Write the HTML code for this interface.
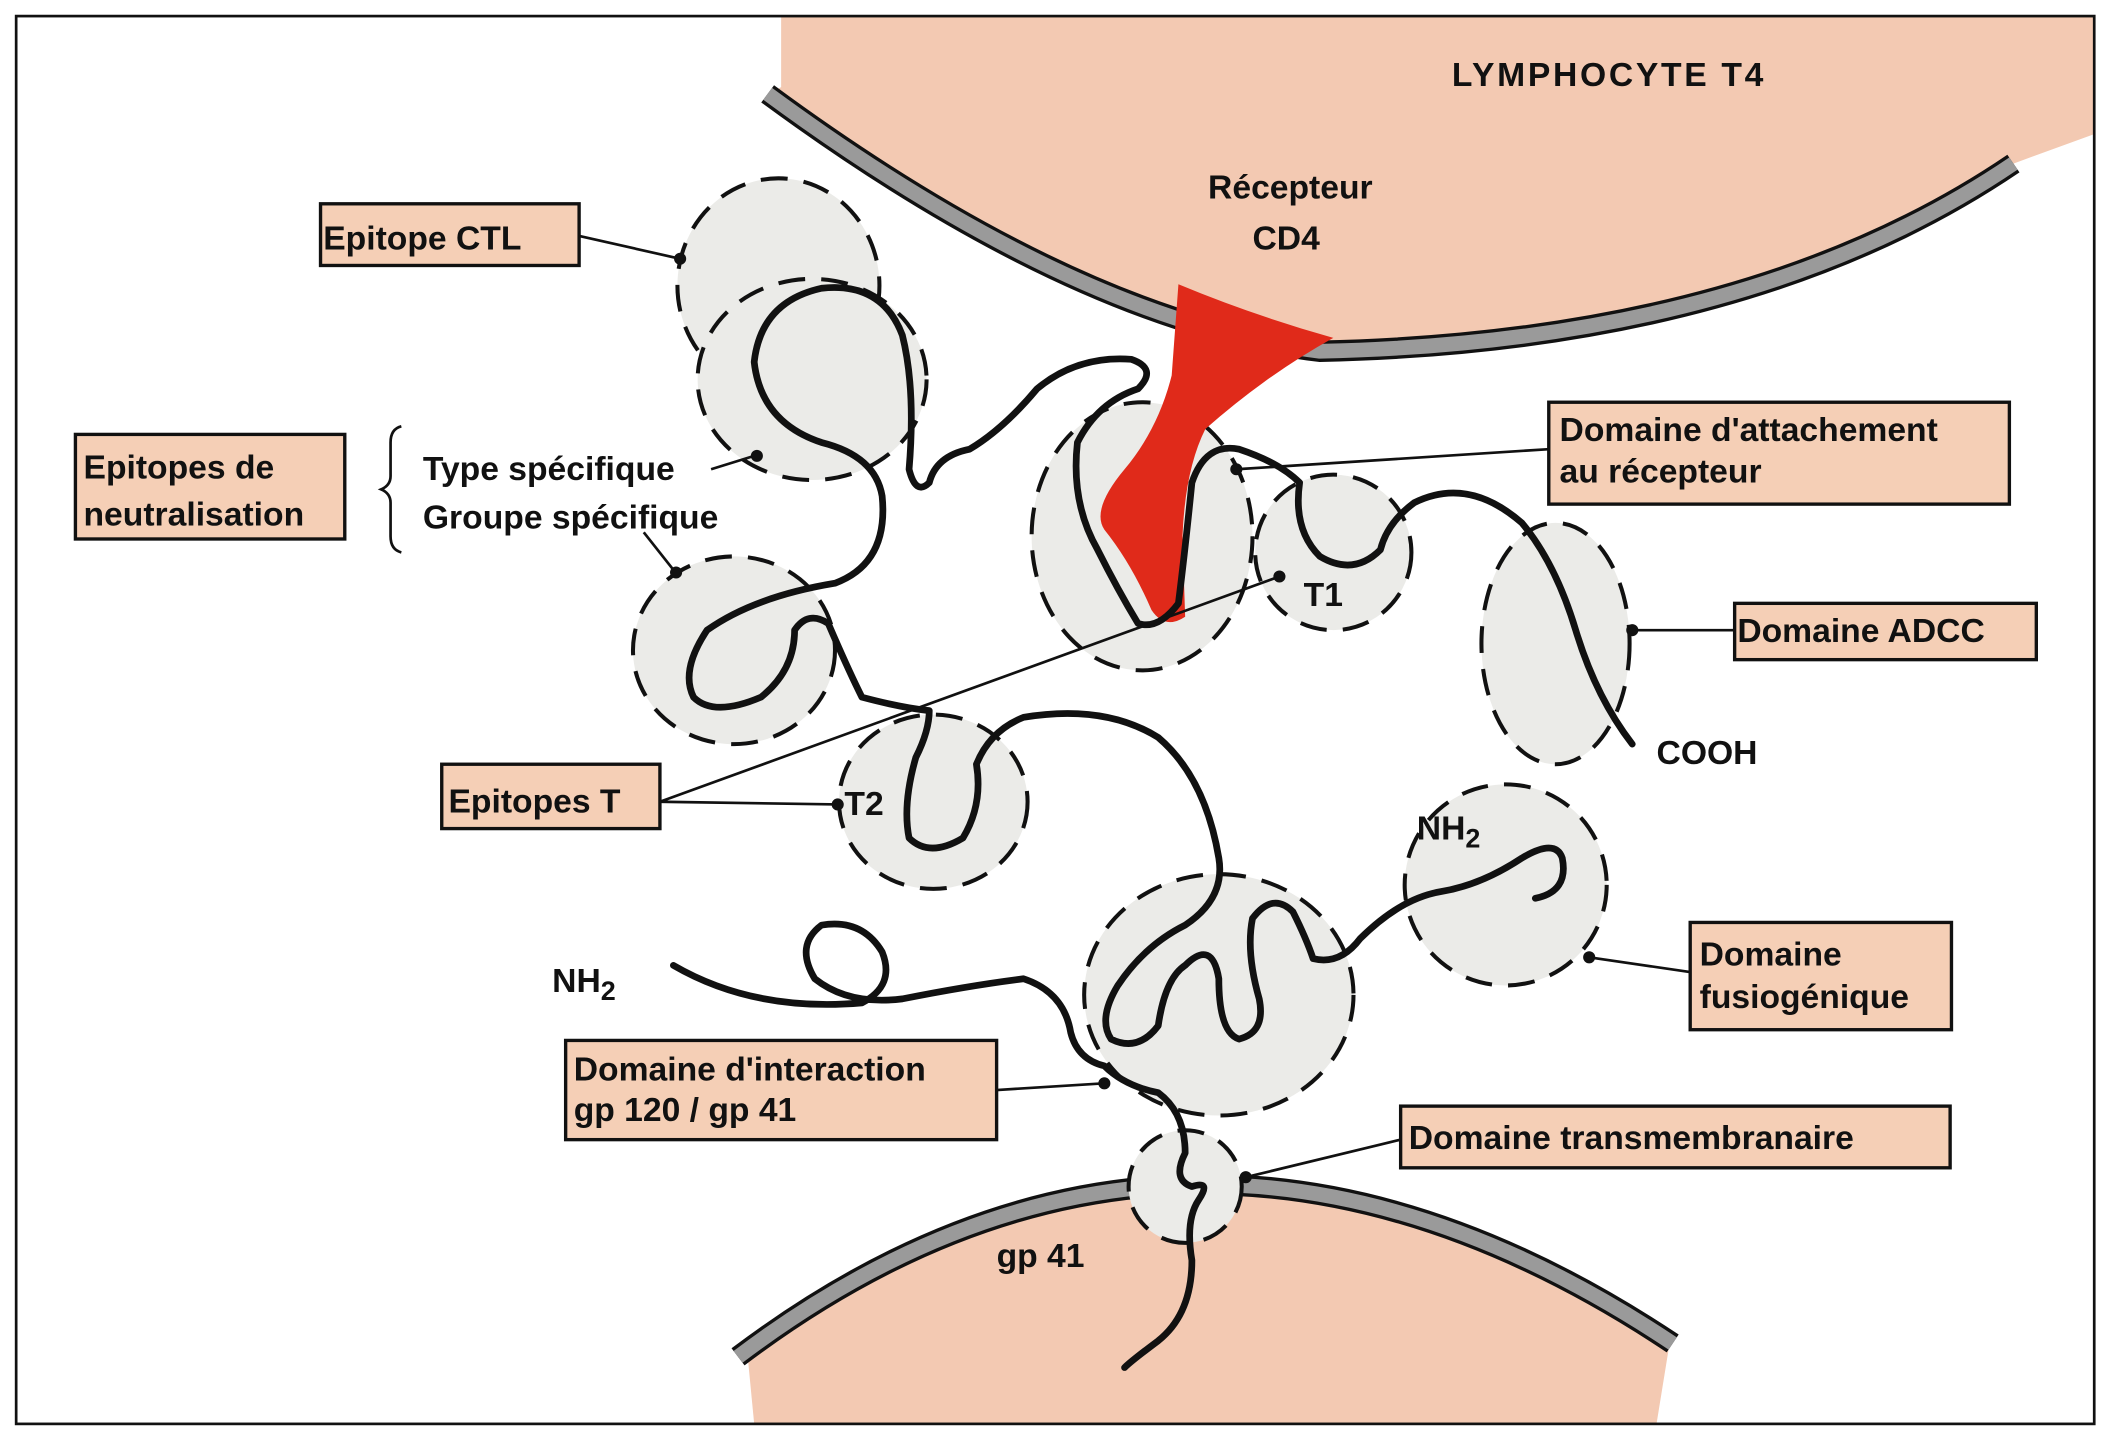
<!DOCTYPE html>
<html><head><meta charset="utf-8"><style>
html,body{margin:0;padding:0;background:#fff}
svg{display:block}
text{font-family:"Liberation Sans",sans-serif;font-weight:bold;fill:#111}
</style></head><body>
<svg width="2105" height="1444" viewBox="0 0 1563 1077" preserveAspectRatio="none" xmlns="http://www.w3.org/2000/svg">
<rect x="0" y="0" width="1563" height="1077" fill="#fff"/>
<!-- top cell -->
<path d="M580,12 L1555,12 L1555,100 L1495,122 Q1300,255 980,262 Q800,240 570,70 L580,65 Z" fill="#f3c9b2"/>
<path d="M570,70 Q800,240 980,262 Q1300,255 1495,122" fill="none" stroke="#111" stroke-width="16"/>
<path d="M570,70 Q800,240 980,262 Q1300,255 1495,122" fill="none" stroke="#9a9a9a" stroke-width="11"/>
<!-- bottom cell -->
<path d="M560,1062 L555,1010 Q880,760 1240,1000 L1230,1062 Z" fill="#f3c9b2"/>
<path d="M548,1012 Q880,760 1242,1002" fill="none" stroke="#111" stroke-width="16"/>
<path d="M548,1012 Q880,760 1242,1002" fill="none" stroke="#9a9a9a" stroke-width="11"/>
<!-- frame -->
<rect x="12" y="12" width="1543" height="1050" fill="none" stroke="#111" stroke-width="2"/>
<!-- dashed domains -->
<g fill="#ebebe8" stroke="#111" stroke-width="3" stroke-dasharray="20,12">
<ellipse cx="578" cy="213" rx="75" ry="80"/>
<ellipse cx="603" cy="283" rx="85" ry="75"/>
<ellipse cx="545" cy="485" rx="75" ry="70"/>
<ellipse cx="848" cy="400" rx="82" ry="100"/>
<circle cx="990" cy="412" r="58"/>
<ellipse cx="1155" cy="480" rx="55" ry="90"/>
<ellipse cx="693" cy="598" rx="70" ry="65"/>
<ellipse cx="905" cy="742" rx="100" ry="90"/>
<circle cx="1118" cy="660" r="75"/>
<circle cx="880" cy="885" r="42"/>
</g>
<!-- CD4 red -->
<path d="M875,212 Q930,235 990,252 Q940,280 895,320 Q880,350 878,400 L880,460 Q865,470 855,455 Q840,420 820,395 Q810,380 835,350 Q860,320 870,280 Z" fill="#e02a1a"/>
<!-- chain -->
<g fill="none" stroke="#111" stroke-width="5" stroke-linecap="round" stroke-linejoin="round">
<path d="M1212,555 Q1185,520 1170,470 Q1155,420 1130,390 Q1090,355 1050,375 Q1030,390 1025,410 Q1005,430 980,415 Q960,395 965,360 Q950,345 920,335 Q895,330 885,360 Q880,410 875,450 Q860,470 845,465 Q830,440 815,410 Q795,375 800,330 Q815,300 845,290 Q860,275 840,268 Q800,265 770,290 Q745,320 720,335 Q695,340 690,360 Q680,370 675,350 Q680,290 670,250 Q655,210 610,215 Q565,225 560,270 Q565,315 610,330 Q650,340 655,370 Q660,420 620,435 Q560,445 525,470 Q505,500 515,520 Q530,535 565,520 Q590,500 590,470 Q600,455 615,465 Q630,500 640,520 Q670,528 690,530 Q690,545 680,565 Q670,600 675,625 Q690,640 715,625 Q730,600 725,570 Q735,545 760,535 Q820,525 860,550 Q895,580 905,640 Q910,670 880,690 Q850,705 830,735 Q815,760 825,775 Q845,785 860,765 Q865,730 880,720 Q900,700 905,730 Q905,770 920,775 Q940,770 935,745 Q925,710 930,685 Q945,665 960,680 Q970,700 975,715 Q995,720 1010,700 Q1040,670 1070,665 Q1100,660 1130,640 Q1155,625 1160,640 Q1165,665 1140,670"/>
<path d="M500,720 Q560,755 640,748 Q665,735 655,710 Q640,685 610,690 Q590,705 605,730 Q630,750 670,745 Q720,735 760,730 Q790,740 795,770 Q800,790 820,795 Q835,810 860,815 Q880,830 880,860 Q870,880 885,885 Q900,880 890,895 Q880,910 885,940 Q885,980 860,1000 Q840,1015 835,1020"/>
</g>
<!-- connector lines -->
<g stroke="#111" stroke-width="2" fill="#111">
<line x1="430" y1="176" x2="505" y2="193"/><circle cx="505" cy="193" r="3.5"/>
<line x1="528" y1="350" x2="560" y2="340"/><circle cx="562" cy="340" r="3.5"/>
<line x1="478" y1="397" x2="500" y2="425"/><circle cx="502" cy="427" r="3.5"/>
<line x1="1150" y1="335" x2="918" y2="350"/><circle cx="918" cy="350" r="3.5"/>
<line x1="1288" y1="470" x2="1212" y2="470"/><circle cx="1212" cy="470" r="3.5"/>
<line x1="490" y1="598" x2="950" y2="430"/><circle cx="950" cy="430" r="3.5"/>
<line x1="490" y1="598" x2="622" y2="600"/><circle cx="622" cy="600" r="3.5"/>
<line x1="1255" y1="725" x2="1180" y2="714"/><circle cx="1180" cy="714" r="3.5"/>
<line x1="740" y1="813" x2="820" y2="808"/><circle cx="820" cy="808" r="3.5"/>
<line x1="1040" y1="850" x2="925" y2="878"/><circle cx="925" cy="878" r="3.5"/>
</g>
<path d="M298,318 Q290,320 290,330 L290,355 Q290,362 283,365 Q290,368 290,375 L290,400 Q290,410 298,412" fill="none" stroke="#111" stroke-width="2"/>
<!-- boxes -->
<g fill="#f5cfb6" stroke="#111" stroke-width="2.5">
<rect x="238" y="152" width="192" height="46"/>
<rect x="56" y="324" width="200" height="78"/>
<rect x="1150" y="300" width="342" height="76"/>
<rect x="1288" y="450" width="224" height="42"/>
<rect x="328" y="570" width="162" height="48"/>
<rect x="1255" y="688" width="194" height="80"/>
<rect x="420" y="776" width="320" height="74"/>
<rect x="1040" y="825" width="408" height="46"/>
</g>
<g font-size="25">
<text x="240" y="186">Epitope CTL</text>
<text x="62" y="357">Epitopes de</text>
<text x="62" y="392">neutralisation</text>
<text x="314" y="358">Type spécifique</text>
<text x="314" y="394">Groupe spécifique</text>
<text x="1158" y="329">Domaine d'attachement</text>
<text x="1158" y="360">au récepteur</text>
<text x="1290" y="479">Domaine ADCC</text>
<text x="333" y="606">Epitopes T</text>
<text x="1262" y="720">Domaine</text>
<text x="1262" y="752">fusiogénique</text>
<text x="426" y="806">Domaine d'interaction</text>
<text x="426" y="836">gp 120 / gp 41</text>
<text x="1046" y="857">Domaine transmembranaire</text>
<text x="1078" y="64" letter-spacing="2">LYMPHOCYTE T4</text>
<text x="897" y="148">Récepteur</text>
<text x="930" y="186">CD4</text>
<text x="968" y="452">T1</text>
<text x="627" y="608">T2</text>
<text x="1230" y="570">COOH</text>
<text x="1052" y="626">NH<tspan font-size="20" dy="6">2</tspan></text>
<text x="410" y="740">NH<tspan font-size="20" dy="6">2</tspan></text>
<text x="740" y="945">gp 41</text>
</g>
</svg>
</body></html>
